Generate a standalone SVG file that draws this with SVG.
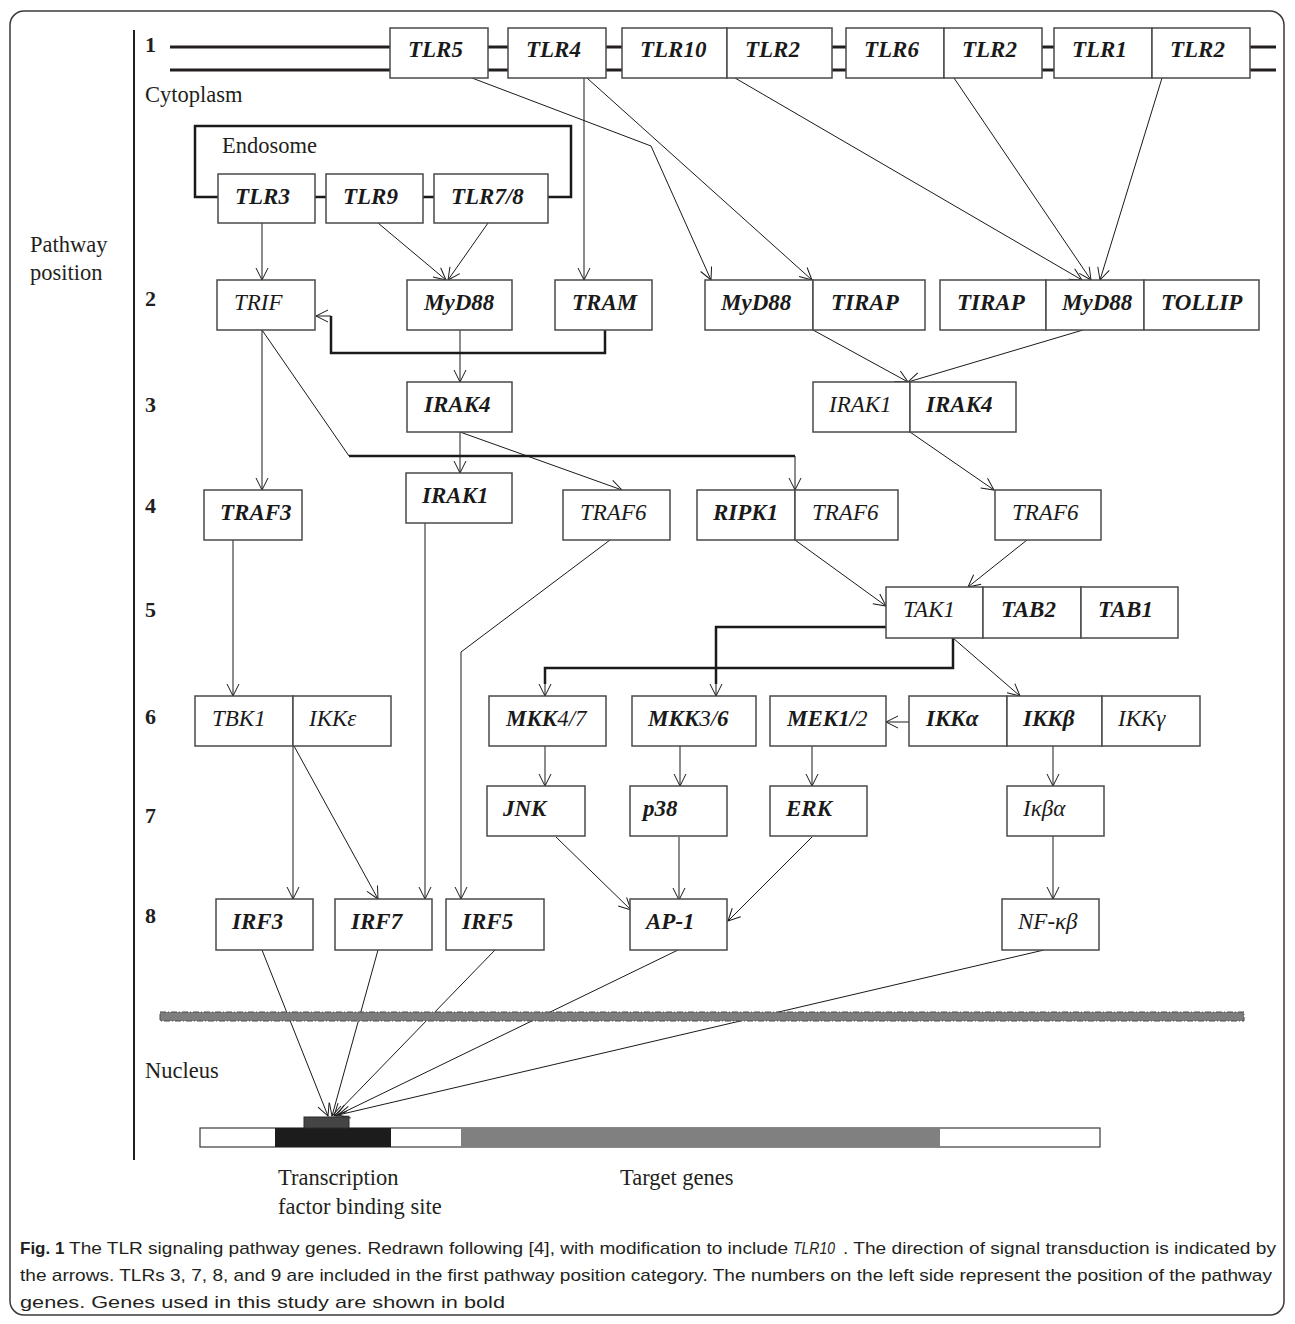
<svg xmlns="http://www.w3.org/2000/svg" width="1295" height="1324" viewBox="0 0 1295 1324">
<style>
.box{fill:#fff;stroke:#4a4a4a;stroke-width:1.5}
.t{font-family:"Liberation Serif","Times New Roman",serif;font-size:23px;font-style:italic;fill:#1a1a1a}
.b{font-weight:bold}
.r{font-weight:normal}
.lab{font-family:"Liberation Serif","Times New Roman",serif;font-size:22.5px;fill:#231f20}
.num{font-family:"Liberation Serif","Times New Roman",serif;font-size:22px;font-weight:bold;fill:#231f20}
.c{fill:none;stroke:#1a1a1a;stroke-width:1}
.k{fill:none;stroke:#1a1a1a;stroke-width:2.5}
.m{fill:none;stroke:#231f20;stroke-width:3}
.cap{font-family:"Liberation Sans",Arial,sans-serif;font-size:17px;fill:#231f20}
</style>
<defs>
<marker id="a" markerWidth="14" markerHeight="14" refX="12" refY="6" orient="auto" markerUnits="userSpaceOnUse" overflow="visible">
<path d="M0,0 L12,6 L0,12" fill="none" stroke="#1a1a1a" stroke-width="1"/>
</marker>
</defs>
<rect x="10" y="11" width="1274" height="1304" rx="14" fill="#fff" stroke="#3a3a3a" stroke-width="1.5"/>
<line x1="134" y1="30" x2="134" y2="1160" stroke="#231f20" stroke-width="2"/>
<g id="labels">
<text class="num" x="145" y="52">1</text>
<text class="num" x="145" y="306">2</text>
<text class="num" x="145" y="412">3</text>
<text class="num" x="145" y="513">4</text>
<text class="num" x="145" y="617">5</text>
<text class="num" x="145" y="724">6</text>
<text class="num" x="145" y="823">7</text>
<text class="num" x="145" y="923">8</text>
<text class="lab" x="145" y="102">Cytoplasm</text>
<text class="lab" x="30" y="252">Pathway</text>
<text class="lab" x="30" y="280">position</text>
<text class="lab" x="222" y="153">Endosome</text>
<text class="lab" x="145" y="1078">Nucleus</text>
<text class="lab" x="278" y="1185">Transcription</text>
<text class="lab" x="278" y="1214">factor binding site</text>
<text class="lab" x="620" y="1185">Target genes</text>
</g>
<g id="membrane">
<path class="m" d="M170,47 H390 M488,47 H508 M606,47 H622 M832,47 H846 M1042,47 H1054 M1250,47 H1276 M170,70 H390 M488,70 H508 M606,70 H622 M832,70 H846 M1042,70 H1054 M1250,70 H1276"/>
<path class="k" d="M218,197 H195 V126 H571 V197 H548 M315,197 H326 M423,197 H434"/>
</g>
<g id="connectors">
<path class="c" marker-end="url(#a)" d="M472,78 L651,146 L711,280"/>
<path class="c" marker-end="url(#a)" d="M584,78 V280"/>
<path class="c" marker-end="url(#a)" d="M587,78 L812,280"/>
<path class="c" marker-end="url(#a)" d="M735,78 L1082,280"/>
<path class="c" marker-end="url(#a)" d="M954,78 L1091,280"/>
<path class="c" marker-end="url(#a)" d="M1162,78 L1100,280"/>
<path class="c" marker-end="url(#a)" d="M262,223 V280"/>
<path class="c" marker-end="url(#a)" d="M378,223 L446,280"/>
<path class="c" marker-end="url(#a)" d="M488,223 L448,280"/>
<path class="k" d="M605,330 V353 H331 V316"/>
<path class="c" marker-end="url(#a)" d="M331,316 H316"/>
<path class="c" marker-end="url(#a)" d="M460,330 V382"/>
<path class="c" marker-end="url(#a)" d="M262,330 V490"/>
<path class="c" d="M262,330 L349,456"/>
<path class="k" d="M349,456 H795"/>
<path class="c" stroke-width="1.3" marker-end="url(#a)" d="M795,456 V490"/>
<path class="c" marker-end="url(#a)" d="M460,432 V473"/>
<path class="c" marker-end="url(#a)" d="M460,432 L622,490"/>
<path class="c" marker-end="url(#a)" d="M813,330 L908,382"/>
<path class="c" marker-end="url(#a)" d="M1083,330 L908,382"/>
<path class="c" marker-end="url(#a)" d="M910,432 L994,490"/>
<path class="c" marker-end="url(#a)" d="M795,540 L886,606"/>
<path class="c" marker-end="url(#a)" d="M1027,540 L968,587"/>
<path class="k" d="M886,627 H716 V684"/>
<path class="c" marker-end="url(#a)" d="M716,684 V696"/>
<path class="k" d="M953,638 V668 H545 V684"/>
<path class="c" marker-end="url(#a)" d="M545,684 V696"/>
<path class="c" marker-end="url(#a)" d="M953,638 L1020,696"/>
<path class="c" marker-end="url(#a)" d="M909,722 H886"/>
<path class="c" marker-end="url(#a)" d="M545,746 V786"/>
<path class="c" marker-end="url(#a)" d="M680,746 V786"/>
<path class="c" marker-end="url(#a)" d="M812,746 V786"/>
<path class="c" marker-end="url(#a)" d="M1053,746 V786"/>
<path class="c" marker-end="url(#a)" d="M1053,836 V899"/>
<path class="c" marker-end="url(#a)" d="M556,837 L631,910"/>
<path class="c" marker-end="url(#a)" d="M679,837 V900"/>
<path class="c" marker-end="url(#a)" d="M812,837 L728,921"/>
<path class="c" marker-end="url(#a)" d="M293,746 V899"/>
<path class="c" marker-end="url(#a)" d="M294,746 L378,899"/>
<path class="c" marker-end="url(#a)" d="M233,540 V696"/>
<path class="c" marker-end="url(#a)" d="M425,523 V899"/>
<path class="c" marker-end="url(#a)" d="M610,540 L461,652 V899"/>
<path class="c" marker-end="url(#a)" d="M262,950 L328,1116"/>
<path class="c" marker-end="url(#a)" d="M378,950 L332,1116"/>
<path class="c" marker-end="url(#a)" d="M495,950 L334,1116"/>
<path class="c" marker-end="url(#a)" d="M678,950 L336,1116"/>
<path class="c" marker-end="url(#a)" d="M1044,950 L338,1115"/>
</g>
<g id="n-tlr5"><rect class="box" x="390" y="28" width="98" height="50"/><text class="t b" x="408" y="57">TLR5</text></g>
<g id="n-tlr4"><rect class="box" x="508" y="28" width="98" height="50"/><text class="t b" x="526" y="57">TLR4</text></g>
<g id="n-tlr10"><rect class="box" x="622" y="28" width="105" height="50"/><text class="t b" x="640" y="57">TLR10</text></g>
<g id="n-tlr2a"><rect class="box" x="727" y="28" width="105" height="50"/><text class="t b" x="745" y="57">TLR2</text></g>
<g id="n-tlr6"><rect class="box" x="846" y="28" width="98" height="50"/><text class="t b" x="864" y="57">TLR6</text></g>
<g id="n-tlr2b"><rect class="box" x="944" y="28" width="98" height="50"/><text class="t b" x="962" y="57">TLR2</text></g>
<g id="n-tlr1"><rect class="box" x="1054" y="28" width="98" height="50"/><text class="t b" x="1072" y="57">TLR1</text></g>
<g id="n-tlr2c"><rect class="box" x="1152" y="28" width="98" height="50"/><text class="t b" x="1170" y="57">TLR2</text></g>
<g id="n-tlr3"><rect class="box" x="218" y="174" width="97" height="49"/><text class="t b" x="235" y="204">TLR3</text></g>
<g id="n-tlr9"><rect class="box" x="326" y="174" width="97" height="49"/><text class="t b" x="343" y="204">TLR9</text></g>
<g id="n-tlr78"><rect class="box" x="434" y="174" width="114" height="49"/><text class="t b" x="451" y="204">TLR7/8</text></g>
<g id="n-trif"><rect class="box" x="217" y="280" width="98" height="50"/><text class="t" x="234" y="310">TRIF</text></g>
<g id="n-myd88a"><rect class="box" x="407" y="280" width="105" height="50"/><text class="t b" x="424" y="310">MyD88</text></g>
<g id="n-tram"><rect class="box" x="555" y="280" width="97" height="50"/><text class="t b" x="572" y="310">TRAM</text></g>
<g id="n-myd88b"><rect class="box" x="705" y="280" width="108" height="50"/><text class="t b" x="721" y="310">MyD88</text></g>
<g id="n-tirapa"><rect class="box" x="813" y="280" width="112" height="50"/><text class="t b" x="831" y="310">TIRAP</text></g>
<g id="n-tirapb"><rect class="box" x="940" y="280" width="106" height="50"/><text class="t b" x="957" y="310">TIRAP</text></g>
<g id="n-myd88c"><rect class="box" x="1046" y="280" width="98" height="50"/><text class="t b" x="1062" y="310">MyD88</text></g>
<g id="n-tollip"><rect class="box" x="1144" y="280" width="115" height="50"/><text class="t b" x="1161" y="310">TOLLIP</text></g>
<g id="n-irak4a"><rect class="box" x="407" y="382" width="105" height="50"/><text class="t b" x="424" y="412">IRAK4</text></g>
<g id="n-irak1b"><rect class="box" x="813" y="382" width="97" height="50"/><text class="t" x="829" y="412">IRAK1</text></g>
<g id="n-irak4b"><rect class="box" x="910" y="382" width="106" height="50"/><text class="t b" x="926" y="412">IRAK4</text></g>
<g id="n-traf3"><rect class="box" x="204" y="490" width="98" height="50"/><text class="t b" x="220" y="520">TRAF3</text></g>
<g id="n-irak1a"><rect class="box" x="406" y="473" width="106" height="50"/><text class="t b" x="422" y="503">IRAK1</text></g>
<g id="n-traf6a"><rect class="box" x="563" y="490" width="107" height="50"/><text class="t" x="580" y="520">TRAF6</text></g>
<g id="n-ripk1"><rect class="box" x="697" y="490" width="98" height="50"/><text class="t b" x="713" y="520">RIPK1</text></g>
<g id="n-traf6b"><rect class="box" x="795" y="490" width="103" height="50"/><text class="t" x="812" y="520">TRAF6</text></g>
<g id="n-traf6c"><rect class="box" x="995" y="490" width="106" height="50"/><text class="t" x="1012" y="520">TRAF6</text></g>
<g id="n-tak1"><rect class="box" x="886" y="587" width="97" height="51"/><text class="t" x="903" y="617">TAK1</text></g>
<g id="n-tab2"><rect class="box" x="983" y="587" width="98" height="51"/><text class="t b" x="1001" y="617">TAB2</text></g>
<g id="n-tab1"><rect class="box" x="1081" y="587" width="97" height="51"/><text class="t b" x="1098" y="617">TAB1</text></g>
<g id="n-tbk1"><rect class="box" x="195" y="696" width="98" height="50"/><text class="t" x="212" y="726">TBK1</text></g>
<g id="n-ikke"><rect class="box" x="293" y="696" width="98" height="50"/><text class="t" x="309" y="726">IKKε</text></g>
<g id="n-mkk47"><rect class="box" x="489" y="696" width="117" height="50"/><text class="t b" x="506" y="726">MKK<tspan class="r">4/7</tspan></text></g>
<g id="n-mkk36"><rect class="box" x="632" y="696" width="124" height="50"/><text class="t b" x="648" y="726">MKK<tspan class="r">3/</tspan>6</text></g>
<g id="n-mek12"><rect class="box" x="770" y="696" width="116" height="50"/><text class="t b" x="787" y="726">MEK1/<tspan class="r">2</tspan></text></g>
<g id="n-ikka"><rect class="box" x="909" y="696" width="98" height="50"/><text class="t b" x="926" y="726">IKKα</text></g>
<g id="n-ikkb"><rect class="box" x="1007" y="696" width="95" height="50"/><text class="t b" x="1023" y="726">IKKβ</text></g>
<g id="n-ikkg"><rect class="box" x="1102" y="696" width="98" height="50"/><text class="t" x="1118" y="726">IKKγ</text></g>
<g id="n-jnk"><rect class="box" x="487" y="786" width="98" height="50"/><text class="t b" x="503" y="816">JNK</text></g>
<g id="n-p38"><rect class="box" x="630" y="786" width="97" height="50"/><text class="t b" x="643" y="816">p38</text></g>
<g id="n-erk"><rect class="box" x="770" y="786" width="97" height="50"/><text class="t b" x="786" y="816">ERK</text></g>
<g id="n-ikba"><rect class="box" x="1007" y="786" width="97" height="50"/><text class="t" x="1023" y="816">Iκβα</text></g>
<g id="n-irf3"><rect class="box" x="216" y="899" width="97" height="51"/><text class="t b" x="232" y="929">IRF3</text></g>
<g id="n-irf7"><rect class="box" x="335" y="899" width="97" height="51"/><text class="t b" x="351" y="929">IRF7</text></g>
<g id="n-irf5"><rect class="box" x="446" y="899" width="98" height="51"/><text class="t b" x="462" y="929">IRF5</text></g>
<g id="n-ap1"><rect class="box" x="630" y="899" width="97" height="51"/><text class="t b" x="646" y="929">AP-1</text></g>
<g id="n-nfkb"><rect class="box" x="1002" y="899" width="97" height="51"/><text class="t" x="1018" y="929">NF-κβ</text></g>
<g id="nuclear-membrane">
<rect x="160" y="1012" width="1084" height="9" fill="#7d7d7d" stroke="#4a4a4a" stroke-width="1" stroke-dasharray="6 2 1 2"/>
</g>
<g id="gene">
<rect x="200" y="1128" width="900" height="19" fill="#fff" stroke="#3a3a3a" stroke-width="1.2"/>
<rect x="275" y="1128" width="116" height="19" fill="#1c1c1c"/>
<rect x="461" y="1128" width="479" height="19" fill="#808080"/>
<rect x="304" y="1117" width="45" height="11" fill="#454545" stroke="#2a2a2a" stroke-width="1"/>
</g>
<g id="caption">
<text class="cap" x="20" y="1254" font-weight="bold">Fig. 1</text>
<text class="cap" x="69" y="1254" textLength="719" lengthAdjust="spacingAndGlyphs">The TLR signaling pathway genes. Redrawn following [4], with modification to include</text>
<text class="cap" x="793" y="1254" font-style="italic" font-size="14.5" textLength="42" lengthAdjust="spacingAndGlyphs">TLR10</text>
<text class="cap" x="843" y="1254" textLength="433" lengthAdjust="spacingAndGlyphs">. The direction of signal transduction is indicated by</text>
<text class="cap" x="20" y="1281" textLength="1252" lengthAdjust="spacingAndGlyphs">the arrows. TLRs 3, 7, 8, and 9 are included in the first pathway position category. The numbers on the left side represent the position of the pathway</text>
<text class="cap" x="20" y="1308" textLength="485" lengthAdjust="spacingAndGlyphs">genes. Genes used in this study are shown in bold</text>
</g>
</svg>
